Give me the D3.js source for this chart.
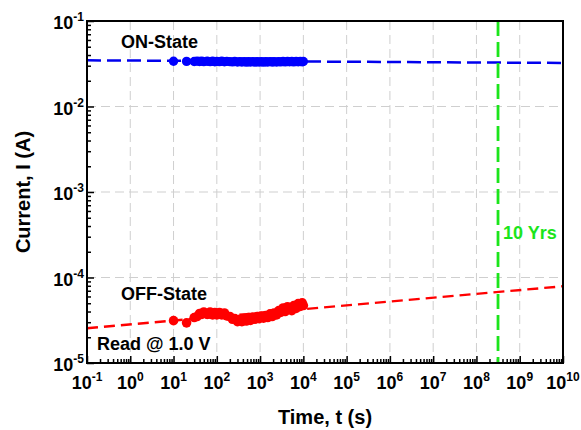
<!DOCTYPE html>
<html>
<head>
<meta charset="utf-8">
<script src="https://cdn.jsdelivr.net/npm/d3@7"></script>
<style>
  html, body { margin: 0; padding: 0; background: #ffffff; }
  svg { display: block; font-family: "Liberation Sans", Arial, sans-serif; }
</style>
</head>
<body>
<svg id="chart" width="581" height="430"></svg>
<script>
// Retention measurement: read current vs. time at 1.0 V
const times = [10, 20, 30, 35, 40, 45, 50, 60, 70, 80, 90, 100, 115, 130, 150, 170, 200, 230, 260,
  300, 340, 380, 430, 480, 540, 600, 680, 760, 850, 950, 1070, 1200, 1350, 1500, 1700, 1900, 2100,
  2400, 2700, 3000, 3400, 3800, 4300, 4800, 5400, 6000, 6800, 7600, 8500, 9400, 10000];

const currentOn = [0.0338, 0.0337, 0.0336, 0.0339, 0.0336, 0.0339, 0.0335, 0.0338, 0.0335,
  0.0338, 0.0334, 0.0337, 0.0335, 0.0338, 0.0334, 0.0337, 0.0335, 0.0333, 0.0336, 0.0332, 0.0335,
  0.0332, 0.0335, 0.0331, 0.0334, 0.0332, 0.0335, 0.0331, 0.0334, 0.0332, 0.0334, 0.0331, 0.0334,
  0.0332, 0.0335, 0.0332, 0.0334, 0.0332, 0.0335, 0.0333, 0.0336, 0.0333, 0.0336, 0.0334, 0.0336,
  0.0333, 0.0336, 0.0334, 0.0336, 0.0334, 0.0336];

const currentOff = [3.13e-5, 2.95e-5, 3.4e-5, 3.5e-5, 3.8e-5, 3.7e-5, 3.95e-5, 3.7e-5, 3.95e-5,
  3.65e-5, 3.9e-5, 3.65e-5, 3.9e-5, 3.65e-5, 3.85e-5, 3.55e-5, 3.5e-5, 3.25e-5, 3.3e-5,
  3.05e-5, 3.25e-5, 3.05e-5, 3.3e-5, 3.1e-5, 3.4e-5, 3.15e-5, 3.45e-5, 3.25e-5, 3.5e-5, 3.3e-5,
  3.55e-5, 3.35e-5, 3.6e-5, 3.4e-5, 3.75e-5, 3.5e-5, 3.85e-5, 3.65e-5, 4.1e-5, 3.9e-5, 4.4e-5,
  4.0e-5, 4.55e-5, 4.25e-5, 4.1e-5, 4.7e-5, 4.35e-5, 4.95e-5, 4.6e-5, 5.05e-5, 4.7e-5];

// Extrapolation lines (end points)
const fitTimes = [0.1, 1e10];
const fitOn = [0.0347, 0.0323];
const fitOff = [2.55e-5, 7.9e-5];

// Ten years in seconds
const tenYears = 3.15e8;

const xDecades = [-1, 0, 1, 2, 3, 4, 5, 6, 7, 8, 9, 10];
const yDecades = [-1, -2, -3, -4, -5];

const svg = d3.select("#chart");
const plot = { left: 87, right: 563, top: 21, bottom: 363 };

const x = d3.scaleLog().domain([0.1, 1e10]).range([plot.left, plot.right]);
const y = d3.scaleLog().domain([1e-5, 1e-1]).range([plot.bottom, plot.top]);

// Background of plot area
svg.append("rect")
  .attr("x", plot.left).attr("y", plot.top)
  .attr("width", plot.right - plot.left).attr("height", plot.bottom - plot.top)
  .attr("fill", "#ffffff");

// Dashed grid at each decade
const grid = svg.append("g").attr("stroke", "#cfcfcf").attr("stroke-width", 1)
  .attr("stroke-dasharray", "9,5");
xDecades.slice(1, -1).forEach(e => {
  grid.append("line")
    .attr("x1", x(Math.pow(10, e))).attr("x2", x(Math.pow(10, e)))
    .attr("y1", plot.top).attr("y2", plot.bottom);
});
yDecades.slice(1, -1).forEach(e => {
  grid.append("line")
    .attr("x1", plot.left).attr("x2", plot.right)
    .attr("y1", y(Math.pow(10, e))).attr("y2", y(Math.pow(10, e)));
});

// Inward ticks: major at decades, minor at 2..9
const isDecade = v => Math.abs(Math.log10(v) - Math.round(Math.log10(v))) < 1e-9;
const xMinor = x.ticks(40).filter(v => !isDecade(v));
const yMinor = y.ticks(40).filter(v => !isDecade(v));

const xAxisMajor = d3.axisBottom(x).tickValues(xDecades.map(e => Math.pow(10, e)))
  .tickSize(-7).tickFormat("");
const xAxisMinor = d3.axisBottom(x).tickValues(xMinor).tickSize(-4).tickFormat("");
const yAxisMajor = d3.axisLeft(y).tickValues(yDecades.map(e => Math.pow(10, e)))
  .tickSize(-7).tickFormat("");
const yAxisMinor = d3.axisLeft(y).tickValues(yMinor).tickSize(-4).tickFormat("");

function styleAxis(g) {
  g.select(".domain").remove();
  g.selectAll(".tick line").attr("stroke", "#000").attr("stroke-width", 1.5);
}
svg.append("g").attr("transform", `translate(0,${plot.bottom})`).call(xAxisMajor).call(styleAxis);
svg.append("g").attr("transform", `translate(0,${plot.bottom})`).call(xAxisMinor).call(styleAxis);
svg.append("g").attr("transform", `translate(${plot.left},0)`).call(yAxisMajor).call(styleAxis);
svg.append("g").attr("transform", `translate(${plot.left},0)`).call(yAxisMinor).call(styleAxis);

// Power-of-ten tick labels
function powerLabel(sel, exp) {
  sel.append("tspan").text("10");
  sel.append("tspan").attr("font-size", 12).attr("dy", -8).text(String(exp));
}
xDecades.forEach(e => {
  svg.append("text")
    .attr("x", x(Math.pow(10, e)))
    .attr("y", 389)
    .attr("text-anchor", "middle")
    .attr("font-size", 18).attr("font-weight", "bold").attr("fill", "#000")
    .call(powerLabel, e);
});
yDecades.forEach(e => {
  svg.append("text")
    .attr("x", 84)
    .attr("y", y(Math.pow(10, e)) + 8)
    .attr("text-anchor", "end")
    .attr("font-size", 18).attr("font-weight", "bold").attr("fill", "#000")
    .call(powerLabel, e);
});

// Extrapolation lines
const line = d3.line().x(d => x(d[0])).y(d => y(d[1]));
svg.append("path")
  .datum(fitTimes.map((t, i) => [t, fitOn[i]]))
  .attr("d", line).attr("fill", "none")
  .attr("stroke", "#0000ee").attr("stroke-width", 2.5).attr("stroke-dasharray", "14,6");
svg.append("path")
  .datum(fitTimes.map((t, i) => [t, fitOff[i]]))
  .attr("d", line).attr("fill", "none")
  .attr("stroke", "#ff0000").attr("stroke-width", 2.4).attr("stroke-dasharray", "11,6");

// Ten-year marker
svg.append("line")
  .attr("x1", x(tenYears)).attr("x2", x(tenYears))
  .attr("y1", plot.top).attr("y2", plot.bottom)
  .attr("stroke", "#1be51b").attr("stroke-width", 2.8).attr("stroke-dasharray", "15,6");

// Measured points
svg.append("g").selectAll("circle")
  .data(times.map((t, i) => [t, currentOn[i]]))
  .join("circle")
  .attr("cx", d => x(d[0])).attr("cy", d => y(d[1])).attr("r", 4.7)
  .attr("fill", "#0000ff");
svg.append("g").selectAll("circle")
  .data(times.map((t, i) => [t, currentOff[i]]))
  .join("circle")
  .attr("cx", d => x(d[0])).attr("cy", d => y(d[1])).attr("r", 4.8)
  .attr("fill", "#ff0000");

// Frame
svg.append("rect")
  .attr("x", plot.left).attr("y", plot.top)
  .attr("width", plot.right - plot.left).attr("height", plot.bottom - plot.top)
  .attr("fill", "none").attr("stroke", "#000").attr("stroke-width", 2);

// Annotations
const note = (tx, ty, str, color) => svg.append("text")
  .attr("x", tx).attr("y", ty).text(str)
  .attr("font-size", 18).attr("font-weight", "bold").attr("fill", color);
note(121, 48, "ON-State", "#000");
note(121, 300, "OFF-State", "#000");
note(97, 350, "Read @ 1.0 V", "#000");
note(503, 239, "10 Yrs", "#1be51b");

// Axis titles
svg.append("text")
  .attr("x", (plot.left + plot.right) / 2).attr("y", 424)
  .attr("text-anchor", "middle")
  .attr("font-size", 20).attr("font-weight", "bold").attr("fill", "#000")
  .text("Time, t (s)");
svg.append("text")
  .attr("transform", `translate(30,${(plot.top + plot.bottom) / 2}) rotate(-90)`)
  .attr("text-anchor", "middle")
  .attr("font-size", 20).attr("font-weight", "bold").attr("fill", "#000")
  .text("Current, I (A)");
</script>
</body>
</html>
